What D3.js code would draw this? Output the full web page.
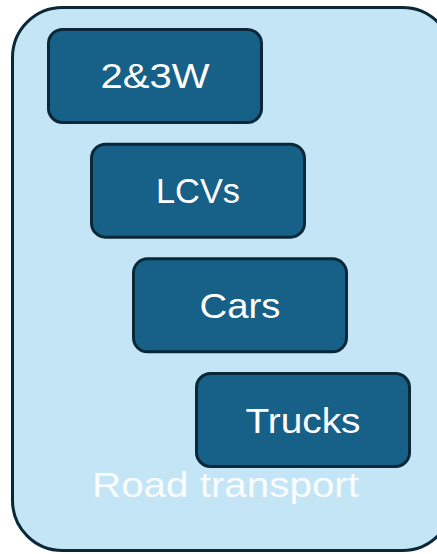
<!DOCTYPE html>
<html><head><meta charset="utf-8">
<script src="https://cdn.jsdelivr.net/npm/d3@7"></script>
<style>html,body{margin:0;padding:0;background:#fff;}svg{display:block;}</style>
</head><body>
<script>
const categories = ["2&3W", "LCVs", "Cars", "Trucks"];
const groupLabel = "Road transport";

const W = 437, H = 554;
const svg = d3.select("body").append("svg").attr("width", W).attr("height", H);

const font = "'Liberation Sans', Arial, sans-serif";
const fillOuter = "#c4e5f5", stroke = "#0b2838", boxFill = "#176087";

// outer group box
svg.append("rect")
  .attr("x", 12.5).attr("y", 7.5).attr("width", 440).attr("height", 543)
  .attr("rx", 50).attr("ry", 50)
  .attr("fill", fillOuter).attr("stroke", stroke).attr("stroke-width", 3);

const y = d3.scaleBand().domain(categories).range([28, 468]).paddingInner(0.163).paddingOuter(0);
const xLeft = d3.scaleOrdinal().domain(categories).range([47, 90, 132, 195]);
const boxW = 216;
const textW = { "2&3W": 109, "LCVs": 84, "Cars": 81, "Trucks": 115 };

const g = svg.selectAll("g.box").data(categories).join("g").attr("class", "box");
g.append("rect")
  .attr("x", d => xLeft(d) + 1.5)
  .attr("y", d => y(d) + 1.5)
  .attr("width", boxW - 3)
  .attr("height", y.bandwidth() - 3)
  .attr("rx", 14).attr("ry", 14)
  .attr("fill", boxFill).attr("stroke", stroke).attr("stroke-width", 3);
g.append("text")
  .attr("x", d => xLeft(d) + boxW / 2)
  .attr("y", d => y(d) + y.bandwidth() / 2 + 12.5)
  .attr("text-anchor", "middle")
  .attr("font-family", font).attr("font-size", 35)
  .attr("fill", "#ffffff")
  .attr("textLength", d => textW[d]).attr("lengthAdjust", "spacingAndGlyphs")
  .text(d => d);

svg.append("text")
  .attr("x", 225.5).attr("y", 497)
  .attr("text-anchor", "middle")
  .attr("font-family", font).attr("font-size", 35)
  .attr("fill", "#ffffff").attr("fill-opacity", 0.92)
  .attr("textLength", 267).attr("lengthAdjust", "spacingAndGlyphs")
  .text(groupLabel);
</script>
</body></html>
